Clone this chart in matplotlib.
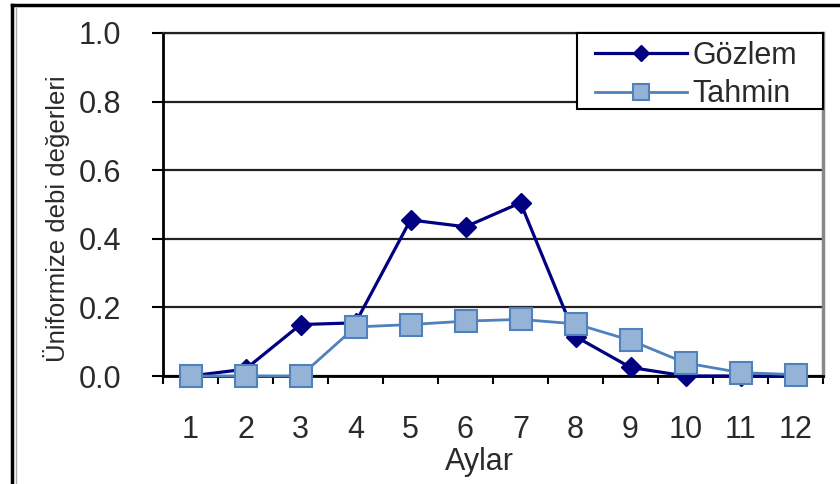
import numpy as np
import matplotlib.pyplot as plt
from matplotlib.lines import Line2D
from matplotlib.patches import Rectangle

plt.rcParams['font.family'] = ['Liberation Sans', 'DejaVu Sans']

# data
months = [1, 2, 3, 4, 5, 6, 7, 8, 9, 10, 11, 12]
gozlem = [0.0, 0.02, 0.15, 0.155, 0.455, 0.435, 0.505, 0.115, 0.025, 0.0, 0.0, 0.0]
tahmin = [0.0, 0.0, 0.0, 0.143, 0.15, 0.16, 0.165, 0.152, 0.104, 0.038, 0.01, 0.004]
yticks = [0.0, 0.2, 0.4, 0.6, 0.8, 1.0]

txt = '#2a2a2a'

fig = plt.figure(figsize=(8.4, 4.84), dpi=100)
ax = fig.add_axes([163/840, 1 - 376/484, 660/840, 343/484])

ax.plot(months, gozlem, color='#000080', linewidth=2.3, marker='D',
        markersize=10.5, markerfacecolor='#000080', markeredgecolor='#000080',
        label='Gözlem', clip_on=False, zorder=3)
ax.plot(months, tahmin, color='#4F81BD', linewidth=2.0, marker='s',
        markersize=16, markerfacecolor='#95B3D7', markeredgecolor='#4F81BD',
        markeredgewidth=1.5, label='Tahmin', clip_on=False, zorder=4)

ax.set_xlim(0.5, 12.5)
ax.set_ylim(0, 1.0)

# category axis: labels at centres, tick marks between categories
ax.set_xticks(months)
ax.set_xticklabels([str(m) for m in months])
ax.set_xticks(np.arange(0.5, 13, 1.0), minor=True)
ax.tick_params(axis='x', which='major', length=0, pad=28, labelsize=22,
               labelcolor=txt)
ax.tick_params(axis='x', which='minor', length=6, width=1.5, direction='out',
               color='black')

ax.set_yticks(yticks)
ax.set_yticklabels(['%.1f' % v for v in yticks])
ax.tick_params(axis='y', length=8, width=1.5, direction='out', pad=22,
               labelsize=22, labelcolor=txt, color='black')

ax.yaxis.grid(True, color='#222222', linewidth=1.6)
ax.set_axisbelow(True)

for s in ['left', 'bottom']:
    ax.spines[s].set_color('black')
    ax.spines[s].set_linewidth(2)
ax.spines['top'].set_color('#222222')
ax.spines['top'].set_linewidth(1.6)
ax.spines['right'].set_color('#888888')
ax.spines['right'].set_linewidth(2.5)

ax.set_ylabel('Üniformize debi değerleri', fontsize=18.5, color=txt)
ax.yaxis.set_label_coords(-0.141, 0.46)
ax.set_xlabel('Aylar', fontsize=22, color=txt)
ax.xaxis.set_label_coords(0.48, -0.207)

# legend box drawn separately so its padding matches the original
box = Rectangle((0.627, 0.778), 0.373, 0.222, transform=ax.transAxes,
                facecolor='white', edgecolor='black', linewidth=1.5,
                clip_on=False, zorder=5)
ax.add_patch(box)
leg = ax.legend(loc='upper left', bbox_to_anchor=(0.6545, 0.977),
                borderaxespad=0, borderpad=0, fontsize=22, frameon=False,
                handlelength=3.0, handletextpad=0.2, labelspacing=0.28)
leg.set_zorder(6)
for t in leg.get_texts():
    t.set_color(txt)
# smaller markers in the legend, as in the original
leg.legend_handles[0].set_markersize(8)
leg.legend_handles[1].set_markersize(12)

# outer frame of the original picture (right/bottom cut off)
fig.add_artist(Line2D([12/840, 1], [1 - 5/484, 1 - 5/484], color='black',
                      linewidth=2.5, transform=fig.transFigure))
fig.add_artist(Line2D([12/840, 12/840], [0, 1 - 5/484], color='black',
                      linewidth=2.5, transform=fig.transFigure))
fig.add_artist(Line2D([16/840, 16/840], [0, 1 - 7/484], color='#aaaaaa',
                      linewidth=1, transform=fig.transFigure))

fig.savefig('out.png', dpi=100)
